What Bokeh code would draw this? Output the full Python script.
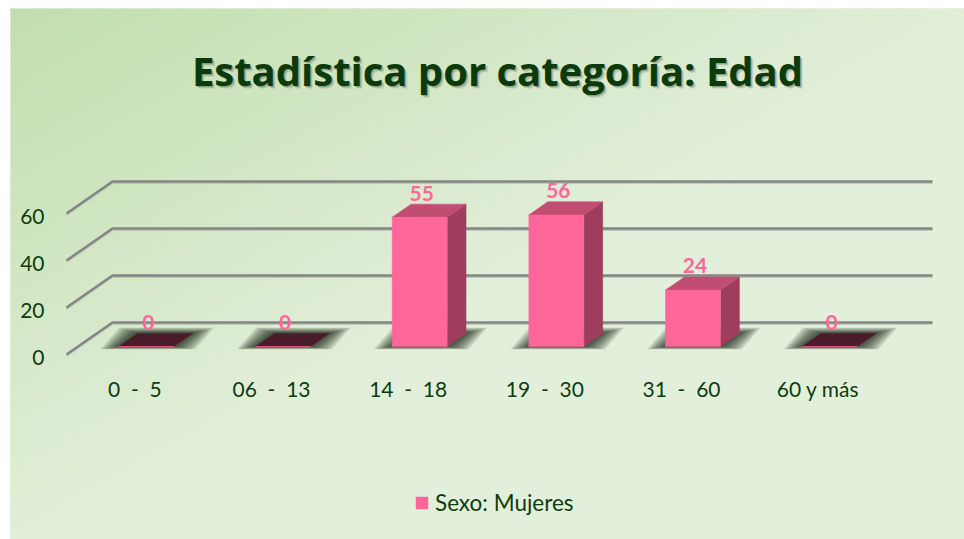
import numpy as np
from bokeh.plotting import figure
from bokeh.models import Range1d, Legend, LegendItem, ColumnDataSource
from bokeh.core.properties import value
from bokeh.embed import file_html
from bokeh.resources import INLINE

# ---------------- data ----------------
categories = ["0  -  5", "06  -  13", "14  -  18", "19  -  30", "31  -  60", "60 y más"]
mujeres = [0, 0, 55, 56, 24, 0]
y_ticks = [0, 20, 40, 60]
y_tick_labels = ["0", "20", "40", "60"]
series_name = "Sexo: Mujeres"
title_text = "Estadística por categoría: Edad"

# ---------------- layout / style ----------------
W, H = 964, 539
BL, BT = 10, 8           # white border left / top
FW, FH = W - BL, H - BT  # frame size
PX_CAT = 136.67          # pixels per category
PX_VAL = 2.35            # pixels per value unit
ORIG_X = 56              # frame px of x=0 (front plane)
ORIG_Y = 346             # frame px (from top) of value 0 (front plane)
DX = 46 / PX_CAT         # depth offset of back wall (data units)
DY = 32 / PX_VAL
D0, D1 = 0.25, 0.66      # bar front/back depth fractions
BW = 55 / PX_CAT         # bar width

TXT = "#0d3d0d"
FONT = "Lato"
PINK = "#ff6699"
SIDE = "#9e3d5e"
TOP = "#c24d72"
ZERO_TOP = "#4a1c2b"

x0 = -ORIG_X / PX_CAT
x1 = (FW - ORIG_X) / PX_CAT
y1 = ORIG_Y / PX_VAL
y0 = -(FH - ORIG_Y) / PX_VAL

p = figure(width=W, height=H, output_backend="svg", toolbar_location=None,
           x_range=Range1d(x0, x1), y_range=Range1d(y0, y1),
           x_axis_location=None, y_axis_location=None,
           min_border=0, min_border_left=BL, min_border_top=BT,
           outline_line_color=None,
           background_fill_color="#e2efda", border_fill_color="#ffffff")
p.grid.visible = False


def to_data(fx, fy):
    return (fx - ORIG_X) / PX_CAT, (ORIG_Y - fy) / PX_VAL


# ---- background gradient (top-left darker green) ----
c0 = np.array([0xc2, 0xde, 0xae], dtype=float)
c1 = np.array([0xe2, 0xef, 0xda], dtype=float)
steps = np.arange(0, 1.2, 0.03)
gxs, gys, gcols = [], [], []
for s in steps:
    sa, sb = s, s + 0.031
    pts = [(sa + 1, -1), (sb + 1, -1), (-1, sb + 1), (-1, sa + 1)]
    xs_, ys_ = [], []
    for u, w in pts:
        dx_, dy_ = to_data(u * FW, w * FH)
        xs_.append(dx_)
        ys_.append(dy_)
    t = min(max((s + 0.015) / 1.05, 0), 1)
    c = c0 + (c1 - c0) * t
    col = "#%02x%02x%02x" % tuple(int(round(v)) for v in c)
    gxs.append(xs_)
    gys.append(ys_)
    gcols.append(col)
p.patches(gxs[::-1], gys[::-1], fill_color=gcols[::-1], line_color=gcols[::-1], line_width=1)

n = len(categories)
centers = np.arange(n) + 0.5


def P(x, v, d):
    return x + d * DX, v + d * DY


# ---- 3D grid lines ----
gl_x, gl_y = [], []
for v in y_ticks:
    a = P(0, v, 0)
    b = P(0, v, 1)
    c = P(n, v, 1)
    gl_x.append([a[0], b[0], c[0]])
    gl_y.append([a[1], b[1], c[1]])
p.multi_line(gl_x, [[y - 1.4 / PX_VAL for y in ys] for ys in gl_y],
             line_color="#a9b5a5", line_width=2, line_alpha=0.6)
p.multi_line(gl_x, gl_y, line_color="#858585", line_width=2.5)

# ---- bar shadows ----
sh_x, sh_y = [], []
for k in range(1, 8):
    for i, v in enumerate(mujeres):
        xl = centers[i] - BW / 2
        xr = centers[i] + BW / 2
        el = 2.6 * k / PX_CAT
        er = 3.0 * k / PX_CAT
        eu = 0.8 * k / PX_VAL
        ed = 0.4 * k / PX_VAL
        fl = P(xl - el, -ed, D0)
        fr = P(xr + er, -ed, D0)
        br = P(xr + er, eu, D1)
        bl = P(xl - el, eu, D1)
        sh_x.append([fl[0], fr[0], br[0], bl[0]])
        sh_y.append([fl[1], fr[1], br[1], bl[1]])
p.patches(sh_x, sh_y, fill_color="#0a140a", fill_alpha=0.15, line_color=None)

# ---- bars ----
side_x, side_y, top_x, top_y, top_c = [], [], [], [], []
for i, v in enumerate(mujeres):
    xl = centers[i] - BW / 2
    xr = centers[i] + BW / 2
    s1, s2, s3, s4 = P(xr, 0, D0), P(xr, 0, D1), P(xr, v, D1), P(xr, v, D0)
    side_x.append([s1[0], s2[0], s3[0], s4[0]])
    side_y.append([s1[1], s2[1], s3[1], s4[1]])
    t1, t2, t3, t4 = P(xl, v, D0), P(xr, v, D0), P(xr, v, D1), P(xl, v, D1)
    top_x.append([t1[0], t2[0], t3[0], t4[0]])
    top_y.append([t1[1], t2[1], t3[1], t4[1]])
    top_c.append(ZERO_TOP if v == 0 else TOP)

p.patches(side_x, side_y, fill_color=SIDE, line_color=SIDE, line_width=0.5)
p.patches(top_x, top_y, fill_color=top_c, line_color=top_c, line_width=0.5)

front_src = ColumnDataSource(dict(
    left=centers - BW / 2 + D0 * DX,
    right=centers + BW / 2 + D0 * DX,
    bottom=np.zeros(n) + D0 * DY,
    top=np.array(mujeres, dtype=float) + D0 * DY,
))
front = p.quad(left="left", right="right", bottom="bottom", top="top", source=front_src,
               fill_color=PINK, line_color=PINK, line_width=0.5)

# ---- data labels ----
p.text(x=centers + D0 * DX, y=np.array(mujeres, dtype=float) + D1 * DY,
       text=[str(v) for v in mujeres], text_align="center", text_baseline="alphabetic",
       x_offset=2, y_offset=-11,
       text_font=value(FONT), text_font_style="bold", text_font_size="21px", text_color=PINK)

# ---- axis labels ----
p.text(x=np.full(len(y_ticks), -22 / PX_CAT), y=y_ticks, text=y_tick_labels,
       text_align="right", text_baseline="middle", y_offset=3,
       text_font=value(FONT), text_font_size="21px", text_color=TXT)
shown_categories = [c.replace("  ", " \u00a0") for c in categories]
p.text(x=centers, y=np.zeros(n), text=shown_categories,
       text_align="center", text_baseline="middle", y_offset=34,
       text_font=value(FONT), text_font_size="21px", text_color=TXT)

# ---- title ----
tx, ty = to_data(487, 62)
for off, alpha in [(3, 0.08), (2, 0.15), (1, 0.2)]:
    p.text(x=[tx], y=[ty], text=[title_text], text_align="center", text_baseline="middle",
           x_offset=off, y_offset=off, text_font=value("Open Sans"), text_font_style="bold",
           text_font_size="40px", text_color="#000000", text_alpha=alpha)
p.text(x=[tx], y=[ty], text=[title_text], text_align="center", text_baseline="middle",
       text_font=value("Open Sans"), text_font_style="bold",
       text_font_size="40px", text_color="#0b3b0b")

# ---- legend ----
legend = Legend(items=[LegendItem(label=series_name, renderers=[front])],
                location=(404, 23), orientation="horizontal",
                border_line_color=None, background_fill_alpha=0,
                label_text_font=FONT, label_text_font_size="22.5px", label_text_color=TXT,
                glyph_width=15, glyph_height=15, label_standoff=6, padding=0, margin=0)
p.add_layout(legend)

open("out.html", "w").write(file_html(p, INLINE))
